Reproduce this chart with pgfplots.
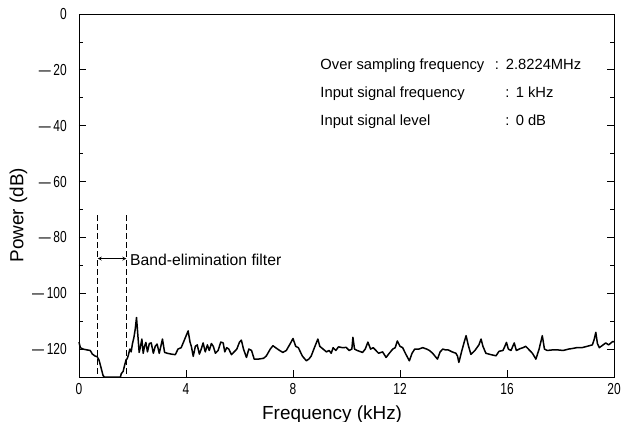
\documentclass[border=0pt]{standalone}
\usepackage{fontspec}
\setmainfont{Liberation Sans}
\newfontfamily\narrowfont[FakeStretch=0.75]{Liberation Sans}
\usepackage{pgfplots}
\pgfplotsset{compat=1.18}
\begin{document}
\begin{tikzpicture}
\begin{axis}[
  scale only axis, width=535bp, height=363bp,
  xmin=0, xmax=20, ymin=-130, ymax=0,
  axis line style={line width=0.8bp},
  xtick={0,4,8,12,16,20}, xtick pos=left,
  xticklabels={0,4,8,12,16,20},
  ytick={0,-20,-40,-60,-80,-100,-120},
  yticklabels={0,{\textemdash\,20},{\textemdash\,40},{\textemdash\,60},{\textemdash\,80},{\textemdash\,100},{\textemdash\,120}},
  minor ytick={-10,-30,-50,-70,-90,-110},
  tick align=inside, major tick length=7bp, minor tick length=4bp,
  tick style={line width=0.7bp, black},
  yticklabel style={font=\narrowfont\fontsize{16}{16}\selectfont, anchor=east, inner sep=0pt, xshift=-12bp},
  xticklabel style={font=\narrowfont\fontsize{16}{16}\selectfont, anchor=north, inner sep=0pt, yshift=-6bp},
  clip=false,
]
\addplot[black, line width=1.5bp, line join=round] coordinates {
(0,-117.5) (0.05,-119.5) (0.15,-120) (0.3,-120.3) (0.42,-120.5) (0.5,-121.8) (0.6,-122.5) (0.68,-122.7) (0.75,-124) (0.82,-126.5) (0.9,-129.5) (0.95,-130) (1.55,-130) (1.58,-128.8) (1.65,-128) (1.7,-126) (1.76,-123.8) (1.8,-123.5) (1.85,-122) (1.9,-120) (1.95,-121) (2.0,-118) (2.05,-116) (2.1,-113) (2.15,-108.7) (2.2,-115) (2.25,-121.2) (2.3,-119) (2.35,-116.4) (2.4,-121.5) (2.45,-119) (2.5,-117.6) (2.56,-121) (2.63,-118) (2.7,-117.8) (2.78,-121.5) (2.85,-119) (2.92,-118.2) (3.0,-121.5) (3.06,-119) (3.12,-116.4) (3.2,-121.2) (3.3,-121.5) (3.45,-121.8) (3.6,-122) (3.7,-120) (3.82,-119.5) (3.95,-116.5) (4.08,-113.5) (4.15,-117.5) (4.2,-119) (4.27,-122.6) (4.35,-119) (4.42,-118.5) (4.5,-121.8) (4.57,-120) (4.64,-117.8) (4.72,-121) (4.8,-118.5) (4.87,-120.5) (4.95,-118) (5.02,-119) (5.1,-121.5) (5.2,-120.5) (5.3,-117.5) (5.39,-117.8) (5.45,-121) (5.52,-119.5) (5.6,-120) (5.7,-122) (5.8,-121) (5.9,-120) (6.0,-117.5) (6.07,-116.8) (6.15,-120) (6.26,-123) (6.35,-120) (6.45,-120.5) (6.55,-123.6) (6.7,-123.6) (6.9,-123.3) (7.0,-122.5) (7.15,-120) (7.25,-118.8) (7.35,-119.5) (7.5,-120.5) (7.62,-121.2) (7.75,-120.5) (7.9,-118) (8.0,-116.2) (8.1,-119) (8.2,-119.5) (8.35,-122.5) (8.5,-124.2) (8.6,-123.5) (8.68,-122.5) (8.8,-119.5) (8.93,-116.4) (9.0,-119) (9.1,-119.8) (9.25,-121) (9.35,-120.5) (9.43,-121.5) (9.5,-119.5) (9.6,-120.5) (9.7,-119.2) (9.85,-119.5) (9.99,-119.4) (10.1,-120.5) (10.2,-120) (10.24,-115.8) (10.3,-120) (10.4,-120.5) (10.6,-121.2) (10.7,-120) (10.8,-117.5) (10.9,-120) (11.0,-119.5) (11.1,-120.5) (11.2,-121.5) (11.35,-121) (11.48,-123) (11.6,-121.5) (11.73,-120) (11.82,-119.5) (11.9,-117.1) (12.0,-119) (12.1,-119.5) (12.2,-121.5) (12.35,-124.2) (12.45,-121.5) (12.55,-120) (12.7,-120) (12.85,-119.5) (13.0,-120) (13.1,-120.5) (13.22,-121.5) (13.4,-123.6) (13.5,-121) (13.6,-120) (13.7,-120.3) (13.8,-120.3) (13.95,-121) (14.09,-121.5) (14.15,-122.5) (14.2,-124.8) (14.3,-121) (14.4,-117.5) (14.47,-115.2) (14.55,-118.5) (14.65,-121.9) (14.8,-120.5) (14.95,-118.5) (15.03,-116.4) (15.1,-119) (15.21,-121.5) (15.4,-122) (15.59,-122.4) (15.7,-120.8) (15.85,-120.5) (15.92,-119) (15.98,-117.6) (16.05,-120) (16.15,-120.5) (16.27,-117.8) (16.35,-120.5) (16.5,-119.8) (16.6,-119.5) (16.7,-119) (16.8,-120) (16.95,-121.5) (17.08,-123.6) (17.2,-120) (17.32,-115.2) (17.4,-120) (17.5,-120.5) (17.7,-120.3) (17.9,-120.3) (18.1,-120.5) (18.3,-120) (18.44,-119.8) (18.6,-119.5) (18.8,-119.5) (19.0,-119) (19.19,-118.5) (19.26,-116.5) (19.32,-114) (19.38,-118) (19.45,-119.5) (19.55,-118.8) (19.69,-117.8) (19.8,-118.5) (19.95,-117.3) (20,-117.4)
};
\addplot[black, line width=0.8bp, dash pattern=on 6bp off 3bp] coordinates {(0.7,-72) (0.7,-130)};
\addplot[black, line width=0.8bp, dash pattern=on 6bp off 3bp] coordinates {(1.77,-72) (1.77,-130)};
\draw[<->, >=stealth, line width=0.8bp] (axis cs:0.7,-87.6) -- (axis cs:1.77,-87.6);
\node[anchor=base west, inner sep=0pt, font=\fontsize{15.8}{16}\selectfont] at (axis cs:1.9,-89.9) {Band-elimination filter};
\node[anchor=base west, inner sep=0pt, font=\fontsize{14.8}{16}\selectfont] at (axis cs:9.02,-20) {Over sampling frequency};
\node[anchor=base, inner sep=0pt, font=\fontsize{14.8}{16}\selectfont] at (axis cs:15.62,-20) {:};
\node[anchor=base west, inner sep=0pt, font=\fontsize{14.8}{16}\selectfont] at (axis cs:15.95,-20) {2.8224MHz};
\node[anchor=base west, inner sep=0pt, font=\fontsize{14.8}{16}\selectfont] at (axis cs:9.02,-30) {Input signal frequency};
\node[anchor=base, inner sep=0pt, font=\fontsize{14.8}{16}\selectfont] at (axis cs:16.02,-30) {:};
\node[anchor=base west, inner sep=0pt, font=\fontsize{14.8}{16}\selectfont] at (axis cs:16.32,-30) {1 kHz};
\node[anchor=base west, inner sep=0pt, font=\fontsize{14.8}{16}\selectfont] at (axis cs:9.02,-40) {Input signal level};
\node[anchor=base, inner sep=0pt, font=\fontsize{14.8}{16}\selectfont] at (axis cs:16.02,-40) {:};
\node[anchor=base west, inner sep=0pt, font=\fontsize{14.8}{16}\selectfont] at (axis cs:16.32,-40) {0 dB};
\node[anchor=base west, inner sep=0pt, font=\fontsize{19}{20}\selectfont] at ([yshift=-42bp]axis cs:6.84,-130) {Frequency (kHz)};
\node[rotate=90, anchor=base west, inner sep=0pt, font=\fontsize{19}{20}\selectfont] at ([xshift=-55.7bp]axis cs:0,-89.1) {Power (dB)};
\coordinate (LL) at (rel axis cs:0,0);
\coordinate (UR) at (rel axis cs:1,1);
\end{axis}
\pgfresetboundingbox
\path ([shift={(-79bp,-45bp)}]LL) rectangle ([shift={(7bp,14bp)}]UR);
\end{tikzpicture}
\end{document}
